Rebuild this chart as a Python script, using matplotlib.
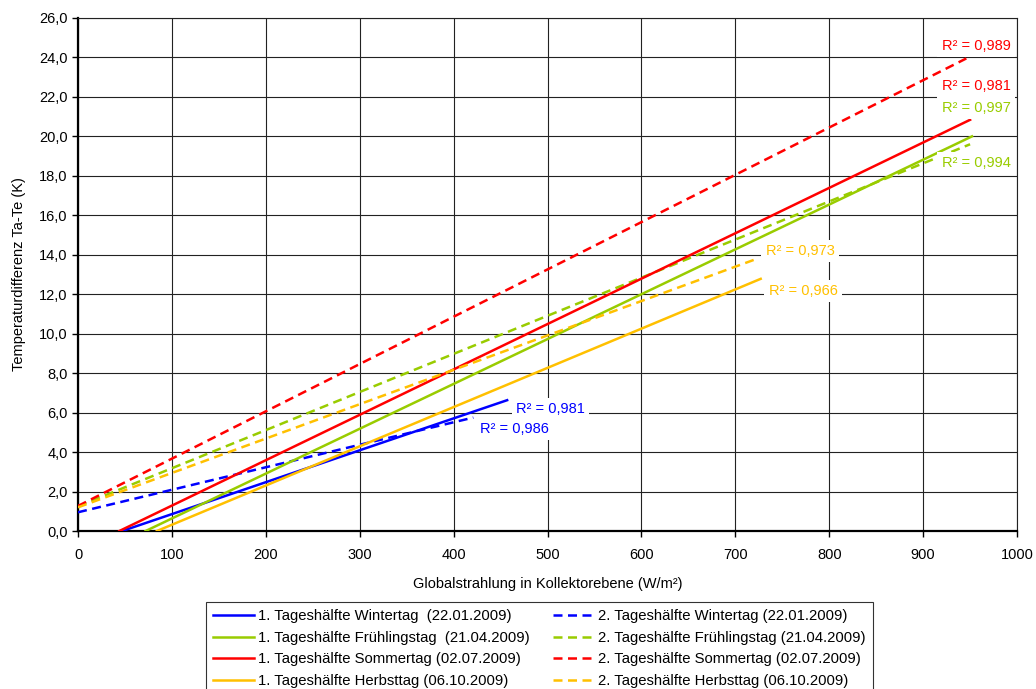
import matplotlib
matplotlib.use("Agg")
import matplotlib.pyplot as plt

plt.rcParams["font.family"] = ["Liberation Sans", "DejaVu Sans"]

# trend lines: start / end points per day
days = ["Wintertag  (22.01.2009)", "Frühlingstag  (21.04.2009)",
        "Sommertag (02.07.2009)", "Herbsttag (06.10.2009)"]
days2 = ["Wintertag (22.01.2009)", "Frühlingstag (21.04.2009)",
         "Sommertag (02.07.2009)", "Herbsttag (06.10.2009)"]
colors = ["#0000FF", "#99CC00", "#FF0000", "#FFC000"]

h1_x = [[47, 457], [72, 952], [44, 950], [84, 727]]
h1_y = [[0.0, 6.63], [0.0, 20.0], [0.0, 20.84], [0.0, 12.78]]
h2_x = [[0, 421], [0, 950], [0, 946], [0, 722]]
h2_y = [[0.95, 5.75], [1.25, 19.6], [1.27, 23.95], [1.2, 13.78]]

h1_r2 = ["0,981", "0,997", "0,981", "0,966"]
h2_r2 = ["0,986", "0,994", "0,989", "0,973"]

xticks = list(range(0, 1001, 100))
yticks = list(range(0, 27, 2))

# label anchor positions (data coords)
h1_pos = [(503, 6.18, "center"), (993, 21.44, "right"), (993, 22.55, "right"), (772, 12.16, "center")]
h2_pos = [(465, 5.17, "center"), (993, 18.65, "right"), (993, 24.6, "right"), (769, 14.19, "center")]

fig = plt.figure(figsize=(10.36, 6.89), dpi=100)
ax = fig.add_axes([0.0753, 0.2293, 0.9064, 0.7446])

handles1, handles2 = [], []
for i in range(4):
    l1, = ax.plot(h1_x[i], h1_y[i], color=colors[i], lw=1.8, zorder=3,
                  label="1. Tageshälfte " + days[i])
    l2, = ax.plot(h2_x[i], h2_y[i], color=colors[i], lw=1.8, ls=(0, (3.6, 2.2)),
                  zorder=3, label="2. Tageshälfte " + days2[i])
    handles1.append(l1)
    handles2.append(l2)
    for pos, txt in ((h1_pos[i], h1_r2[i]), (h2_pos[i], h2_r2[i])):
        ax.text(pos[0], pos[1], "R² = " + txt, color=colors[i], fontsize=10.5,
                ha=pos[2], va="center", zorder=5,
                bbox=dict(boxstyle="square,pad=0.3", fc="white", ec="none"))

ax.set_xlim(0, 1000)
ax.set_ylim(0, 26)
ax.set_xticks(xticks)
ax.set_yticks(yticks)
ax.set_yticklabels([f"{v:.1f}".replace(".", ",") for v in yticks])
ax.tick_params(axis="both", labelsize=10.5, direction="out", length=4, width=1, colors="black")
ax.tick_params(axis="x", pad=8)
ax.grid(True, color="#222222", lw=0.8, zorder=1)
ax.set_axisbelow(True)
for s in ["left", "bottom"]:
    ax.spines[s].set_linewidth(1.6)
for s in ["top", "right"]:
    ax.spines[s].set_linewidth(0.8)
    ax.spines[s].set_color("#222222")

ax.set_xlabel("Globalstrahlung in Kollektorebene (W/m²)", fontsize=10.5, labelpad=11)
ax.set_ylabel("Temperaturdifferenz Ta-Te (K)", fontsize=10.5, labelpad=9)

leg = fig.legend(handles1 + handles2, [h.get_label() for h in handles1 + handles2],
                 ncol=2, loc="upper left", bbox_to_anchor=(206 / 1036, 1 - 602 / 689),
                 borderaxespad=0, fontsize=10.7, frameon=True, fancybox=False,
                 edgecolor="black", handlelength=2.75, handletextpad=0.25,
                 columnspacing=1.6, labelspacing=0.5, borderpad=0.5)
leg.get_frame().set_linewidth(0.8)

fig.savefig("out.png", dpi=100)
